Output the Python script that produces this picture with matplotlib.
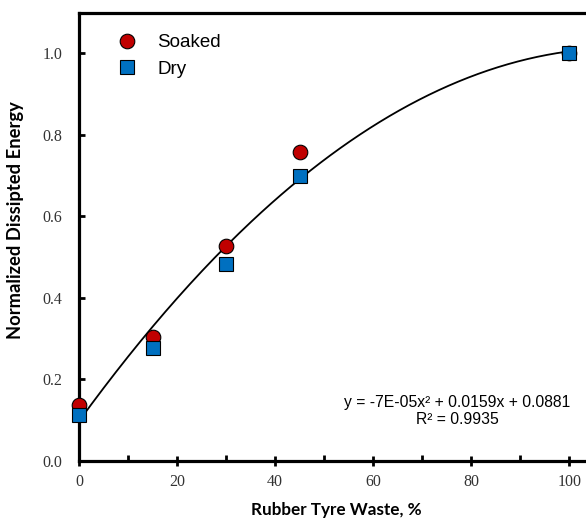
import numpy as np
import matplotlib.pyplot as plt

# data
rubber_pct = [0, 15, 30, 45, 100]
soaked = [0.137, 0.303, 0.527, 0.758, 1.0]
dry = [0.111, 0.277, 0.484, 0.700, 1.0]

# quadratic trendline over both series (as excel does)
xs = np.array(rubber_pct + rubber_pct, dtype=float)
ys = np.array(soaked + dry, dtype=float)
coef = np.polyfit(xs, ys, 2)
x_fit = np.linspace(0, 100, 200)
y_fit = np.polyval(coef, x_fit)

fig = plt.figure(figsize=(5.86, 5.18), dpi=100)
ax = fig.add_axes([0.1348, 0.1106, 0.8785, 0.8651])

ax.plot(x_fit, y_fit, color='black', lw=1.3, zorder=2)
ax.plot(rubber_pct, soaked, 'o', ms=10.5, mfc='#C00000', mec='black', mew=0.8,
        label='Soaked', zorder=3, clip_on=False)
ax.plot(rubber_pct, dry, 's', ms=10.5, mfc='#0070C0', mec='black', mew=0.8,
        label='Dry', zorder=4, clip_on=False)

ax.set_xlim(0, 105)
ax.set_ylim(0, 1.1)
ax.set_xticks([0, 20, 40, 60, 80, 100])
ax.set_xticks([10, 30, 50, 70, 90], minor=True)
ax.set_yticks([0.0, 0.2, 0.4, 0.6, 0.8, 1.0])
ax.set_yticklabels(['0.0', '0.2', '0.4', '0.6', '0.8', '1.0'])

for sp in ax.spines.values():
    sp.set_linewidth(2.3)
ax.tick_params(axis='x', which='major', direction='inout', length=7, width=2,
               pad=6, labelsize=11.5)
ax.tick_params(axis='x', which='minor', direction='in', length=4, width=2)
ax.tick_params(axis='y', which='major', direction='in', length=4, width=2,
               pad=12, labelsize=11.5)
for lab in ax.get_xticklabels() + ax.get_yticklabels():
    lab.set_fontfamily('Liberation Serif')
    lab.set_color('#333333')

ax.set_xlabel('Rubber Tyre Waste, %', fontfamily='Lato', fontweight='bold',
              fontsize=12.3, labelpad=9)
ax.set_ylabel('Normalized Dissipted Energy', fontfamily='Lato', fontweight='bold',
              fontsize=13.2)
ax.yaxis.set_label_coords(-0.107, 0.537)

leg = ax.legend(loc='upper left', bbox_to_anchor=(0.025, 0.99), frameon=False,
                prop={'family': 'Liberation Sans', 'size': 13.5},
                handletextpad=0.6, labelspacing=0.5)

ax.text(77.1, 0.122, 'y = -7E-05x² + 0.0159x + 0.0881\nR² = 0.9935',
        ha='center', va='center', fontfamily='Liberation Sans', fontsize=11.3,
        linespacing=1.15)

fig.savefig('out.png', dpi=100)
